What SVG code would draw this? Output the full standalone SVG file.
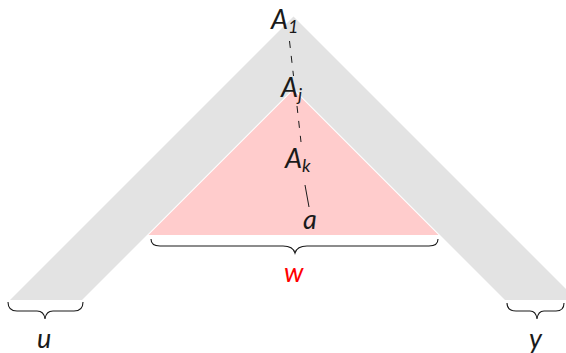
<svg xmlns="http://www.w3.org/2000/svg" width="566" height="353" viewBox="0 0 566 353">
<style>
.t{font-family:"Lato","DejaVu Sans",sans-serif;font-style:italic;fill:#1a1a1a}
.big{font-size:27px}
.sub{font-size:18px}
.brace{fill:none;stroke:#1a1a1a;stroke-width:1.1}
.dash{stroke:#1a1a1a;stroke-width:1;stroke-dasharray:7 8;fill:none}
</style>
<rect width="566" height="353" fill="#fff"/>
<g id="shape">
<path d="M10,300 L293.5,16.5 L577,300 L505,300 L293.5,88.5 L82,300 Z" fill="#e3e3e3"/>
<path d="M148.5,235 L293.5,90 L438.5,235 Z" fill="#ffcccc"/>
</g>
<g id="connectors">
<line class="dash" x1="289.5" y1="41" x2="293.5" y2="76"/>
<line class="dash" x1="297" y1="106" x2="301" y2="142"/>
<line x1="305" y1="185" x2="309" y2="207" stroke="#1a1a1a" stroke-width="1"/>
<path class="brace" d="M8,302 Q8,311 17,311 L37,311 Q44,311 45,319 Q46,311 53,311 L74,311 Q83,311 83,302"/>
<path class="brace" d="M507,303 Q507,311 516,311 L530,311 Q536,311 537,319 Q538,311 544,311 L556,311 Q564,311 564,303"/>
<path class="brace" d="M151,239 Q151,246 160,246 L283,246 Q293,246 295,253 Q297,246 307,246 L429,246 Q438,246 438,239"/>
</g>
<g id="A1"><text class="t big" x="271" y="29">A<tspan class="sub" dy="4">1</tspan></text></g>
<g id="Aj"><text class="t big" x="281" y="97">A<tspan class="sub" dy="4">j</tspan></text></g>
<g id="Ak"><text class="t big" x="285" y="168">A<tspan class="sub" dy="4">k</tspan></text></g>
<g id="a"><text class="t big" x="303" y="229">a</text></g>
<g id="w"><text class="t big" x="284" y="282" style="fill:#ff0000">w</text></g>
<g id="u"><text class="t big" x="37" y="348">u</text></g>
<g id="y"><text class="t big" x="529" y="348">y</text></g>
</svg>
